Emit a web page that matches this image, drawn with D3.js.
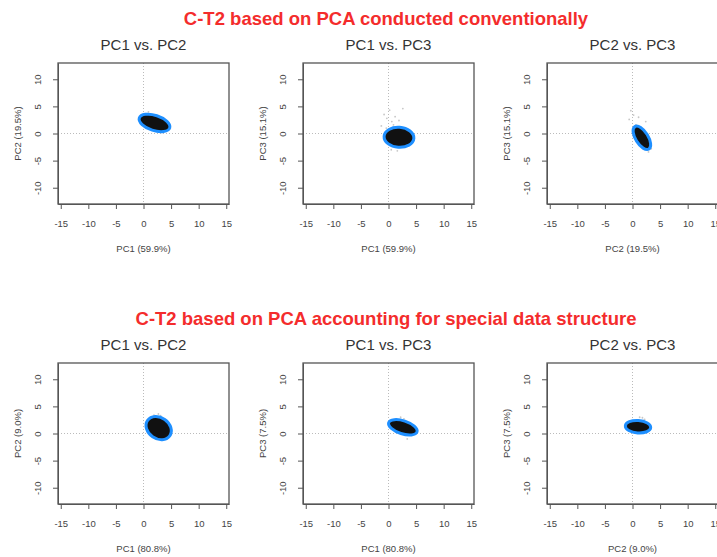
<!DOCTYPE html>
<html>
<head>
<meta charset="utf-8">
<script src="https://cdn.jsdelivr.net/npm/d3@7"></script>
<style>
	body { margin: 0; background: #fff; }
	svg { font-family: "Liberation Sans", Arial, sans-serif; }
</style>
</head>
<body>
<div id="main"></div>
<script>
// row titles
const rowTitles = [
	"C-T2 based on PCA conducted conventionally",
	"C-T2 based on PCA accounting for special data structure"
];
// panels, row by row
const panelTitles = ["PC1 vs. PC2", "PC1 vs. PC3", "PC2 vs. PC3", "PC1 vs. PC2", "PC1 vs. PC3", "PC2 vs. PC3"];
const xLabels = ["PC1 (59.9%)", "PC1 (59.9%)", "PC2 (19.5%)", "PC1 (80.8%)", "PC1 (80.8%)", "PC2 (9.0%)"];
const yLabels = ["PC2 (19.5%)", "PC3 (15.1%)", "PC3 (15.1%)", "PC2 (9.0%)", "PC3 (7.5%)", "PC3 (7.5%)"];
const xTicks = [-15, -10, -5, 0, 5, 10, 15];
const yTicks = [-10, -5, 0, 5, 10];

// the dense cloud of each panel (data units, tilt in degrees)
const cloudCx = [2.0, 1.9, 1.7, 2.75, 2.6, 1.0];
const cloudCy = [1.95, -0.7, -0.8, 1.0, 1.15, 1.25];
const cloudRx = [2.9, 2.7, 2.4, 2.45, 2.7, 2.3];
const cloudRy = [1.4, 1.85, 1.15, 1.95, 1.2, 1.15];
const cloudTilt = [18, 4, 58, 35, 18, 4];

// scattered faint points outside the cloud: [panel, x, y]
const strays = [
	[0, 0.9, 4.0], [0, 1.3, 3.6], [0, 0.4, 3.2], [0, 4.6, 1.2],
	[1, -0.8, 3.5], [1, -0.3, 2.8], [1, 0.2, 4.3], [1, 0.6, 2.2], [1, 1.2, 3.1],
	[1, -1.3, 1.4], [1, 2.6, 4.6], [1, 0.9, 1.6], [1, -0.4, 1.0], [1, 0.5, -3.0],
	[1, 1.6, -3.2], [1, 0.1, 0.6], [1, 1.9, 2.4],
	[2, -0.3, 4.2], [2, 0.2, 3.4], [2, 1.1, 3.0], [2, 2.4, 2.2], [2, -0.6, 2.6],
	[2, 0.6, 1.6], [2, 3.4, -2.8], [2, 2.9, -3.4],
	[3, 2.7, 3.6], [3, 3.1, 3.3], [3, 1.9, 3.4],
	[4, 2.2, 3.0], [4, 2.8, 2.7], [4, 3.4, -1.0],
	[5, 1.3, 3.0], [5, 2.2, 2.6], [5, 1.8, 2.9]
];

const colLeft = [58, 303, 547];
const rowTop = [63, 363];
const boxW = 171;
const boxH = 141;

let svg = d3.select("#main")
	.append("svg")
		.attr("width", 717)
		.attr("height", 557);

rowTitles.forEach((t, r) => {
	svg.append("text")
		.attr("x", 386)
		.attr("y", rowTop[r] - 38.5)
		.attr("text-anchor", "middle")
		.style("font-size", "18.5px")
		.style("font-weight", "bold")
		.style("fill", "#f42c2c")
		.text(t);
});

panelTitles.forEach((title, i) => {
	const r = Math.floor(i / 3);
	const c = i % 3;
	const left = colLeft[c];
	const top = rowTop[r];

	let x = d3.scaleLinear()
		.domain([-15.5, 15.5])
		.range([left, left + boxW]);
	let y = d3.scaleLinear()
		.domain([-13, 13])
		.range([top + boxH, top]);

	let g = svg.append("g");

	// zero lines
	g.append("line")
		.attr("x1", x(0)).attr("x2", x(0))
		.attr("y1", top).attr("y2", top + boxH)
		.style("stroke", "#bbb").style("stroke-dasharray", "1,2");
	g.append("line")
		.attr("x1", left).attr("x2", left + boxW)
		.attr("y1", y(0)).attr("y2", y(0))
		.style("stroke", "#bbb").style("stroke-dasharray", "1,2");

	// faint points
	g.selectAll("stray")
		.data(strays.filter(d => d[0] == i))
		.enter()
		.append("circle")
			.attr("cx", d => x(d[1]))
			.attr("cy", d => y(d[2]))
			.attr("r", 0.9)
			.style("fill", "#999")
			.style("opacity", 0.55);

	// the cloud: blue rim, black core
	const sx = x(cloudRx[i]) - x(0);
	const sy = y(0) - y(cloudRy[i]);
	g.append("ellipse")
		.attr("transform", `translate(${x(cloudCx[i])},${y(cloudCy[i])}) rotate(${cloudTilt[i]})`)
		.attr("rx", sx)
		.attr("ry", sy)
		.style("fill", "#111")
		.style("stroke", "#1e8fff")
		.style("stroke-width", 3);

	// box
	g.append("rect")
		.attr("x", left).attr("y", top)
		.attr("width", boxW).attr("height", boxH)
		.style("fill", "none")
		.style("stroke", "#555")
		.style("stroke-width", 1.3);

	// axes, R style hyphen minus
	let xa = g.append("g")
		.attr("transform", `translate(0,${top + boxH})`)
		.call(d3.axisBottom(x).tickValues(xTicks).tickSize(5).tickSizeOuter(0).tickPadding(11).tickFormat(d => String(d)));
	xa.selectAll("text")
		.style("font-size", "9.5px")
		.style("fill", "#444");

	let ya = g.append("g")
		.attr("transform", `translate(${left},0)`)
		.call(d3.axisLeft(y).tickValues(yTicks).tickSize(5).tickSizeOuter(0).tickFormat(d => String(d)));
	ya.selectAll("text")
		.attr("x", 0)
		.attr("dy", "0.35em")
		.attr("transform", "translate(-20,0) rotate(-90)")
		.attr("text-anchor", "middle")
		.style("font-size", "9.5px")
		.style("fill", "#444");

	[xa, ya].forEach(a => {
		a.select(".domain").style("stroke", "#555");
		a.selectAll(".tick line").style("stroke", "#555");
	});

	// labels
	g.append("text")
		.attr("x", left + boxW / 2)
		.attr("y", top - 13)
		.attr("text-anchor", "middle")
		.style("font-size", "15px")
		.style("fill", "#333")
		.text(title);
	g.append("text")
		.attr("x", left + boxW / 2)
		.attr("y", top + boxH + 47.5)
		.attr("text-anchor", "middle")
		.style("font-size", "9.5px")
		.style("fill", "#444")
		.text(xLabels[i]);
	g.append("text")
		.attr("transform", `translate(${left - 40},${top + boxH / 2}) rotate(-90)`)
		.attr("dy", "0.35em")
		.attr("text-anchor", "middle")
		.style("font-size", "9.5px")
		.style("fill", "#444")
		.text(yLabels[i]);
});
</script>
</body>
</html>
